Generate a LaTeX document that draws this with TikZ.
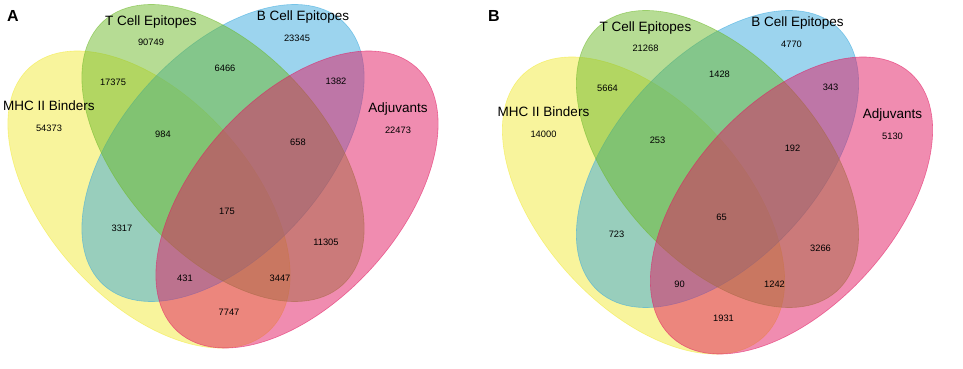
\documentclass[tikz,border=0pt]{standalone}
\usepackage{fontspec}
\setmainfont{Liberation Sans}
\usepackage{tikz}

\definecolor{mhcyellow}{RGB}{241,233,57}
\definecolor{tcellgreen}{RGB}{109,185,41}
\definecolor{bcellblue}{RGB}{57,169,221}
\definecolor{adjpink}{RGB}{225,25,97}

\begin{document}
\begin{tikzpicture}[x=1pt, y=1pt,
    setfill/.style={fill=#1, fill opacity=0.5, draw=#1, draw opacity=0.55, line width=0.6pt},
    vennshape/.style={xscale=495, yscale=521, rotate=#1},
    setname/.style={font=\fontsize{13.5}{15}\selectfont, inner sep=0pt},
    count/.style={font=\fontsize{9.3}{11}\selectfont, inner sep=0pt},
    panel/.style={font=\fontsize{16}{18}\selectfont\bfseries, inner sep=0pt}]
  \useasboundingbox (0,0) rectangle (963,369);

  % Panel letters
  \node[panel] (letterA) at (13,353) {A};
  \node[panel] (letterB) at (494,353) {B};

  % Panel A
  \begin{scope}
    % Sets (MHC II, B cell, T cell, adjuvants)
    \draw[setfill=mhcyellow, shift={(149,169.5)}, vennshape=-45] (0,0) ellipse [x radius=0.35, y radius=0.2];
    \draw[setfill=bcellblue, shift={(223,216)}, vennshape=45] (0,0) ellipse [x radius=0.35, y radius=0.2];
    \draw[setfill=tcellgreen, shift={(223,216)}, vennshape=-45] (0,0) ellipse [x radius=0.35, y radius=0.2];
    \draw[setfill=adjpink, shift={(297,169.5)}, vennshape=45] (0,0) ellipse [x radius=0.35, y radius=0.2];

    % Set names
    \node[setname] (a-tname) at (151,347) {T Cell Epitopes};
    \node[setname] (a-bname) at (303,352) {B Cell Epitopes};
    \node[setname] (a-mname) at (49,263) {MHC II Binders};
    \node[setname] (a-aname) at (398,260) {Adjuvants};

    % Counts
    \node[count] (a-t) at (151,327) {90749};
    \node[count] (a-b) at (297,331) {23345};
    \node[count] (a-m) at (49,241) {54373};
    \node[count] (a-a) at (398,239) {22473};
    \node[count] (a-mt) at (113,287) {17375};
    \node[count] (a-tb) at (225,301) {6466};
    \node[count] (a-ba) at (336,288) {1382};
    \node[count] (a-mtb) at (163,235) {984};
    \node[count] (a-tba) at (298,227) {658};
    \node[count] (a-all) at (227,158) {175};
    \node[count] (a-mb) at (122,141) {3317};
    \node[count] (a-ta) at (326,127) {11305};
    \node[count] (a-mba) at (185,91) {431};
    \node[count] (a-mta) at (280,91) {3447};
    \node[count] (a-ma) at (229,57) {7747};
  \end{scope}

  % Panel B
  \begin{scope}[shift={(494.5,-6)}]
    % Sets (MHC II, B cell, T cell, adjuvants)
    \draw[setfill=mhcyellow, shift={(149,169.5)}, vennshape=-45] (0,0) ellipse [x radius=0.35, y radius=0.2];
    \draw[setfill=bcellblue, shift={(223,216)}, vennshape=45] (0,0) ellipse [x radius=0.35, y radius=0.2];
    \draw[setfill=tcellgreen, shift={(223,216)}, vennshape=-45] (0,0) ellipse [x radius=0.35, y radius=0.2];
    \draw[setfill=adjpink, shift={(297,169.5)}, vennshape=45] (0,0) ellipse [x radius=0.35, y radius=0.2];

    % Set names
    \node[setname] (b-tname) at (151,347) {T Cell Epitopes};
    \node[setname] (b-bname) at (303,352) {B Cell Epitopes};
    \node[setname] (b-mname) at (49,263) {MHC II Binders};
    \node[setname] (b-aname) at (398,260) {Adjuvants};

    % Counts
    \node[count] (b-t) at (151,327) {21268};
    \node[count] (b-b) at (297,331) {4770};
    \node[count] (b-m) at (49,241) {14000};
    \node[count] (b-a) at (398,239) {5130};
    \node[count] (b-mt) at (113,287) {5664};
    \node[count] (b-tb) at (225,301) {1428};
    \node[count] (b-ba) at (336,288) {343};
    \node[count] (b-mtb) at (163,235) {253};
    \node[count] (b-tba) at (298,227) {192};
    \node[count] (b-all) at (227,158) {65};
    \node[count] (b-mb) at (122,141) {723};
    \node[count] (b-ta) at (326,127) {3266};
    \node[count] (b-mba) at (185,91) {90};
    \node[count] (b-mta) at (280,91) {1242};
    \node[count] (b-ma) at (229,57) {1931};
  \end{scope}

\end{tikzpicture}
\end{document}
